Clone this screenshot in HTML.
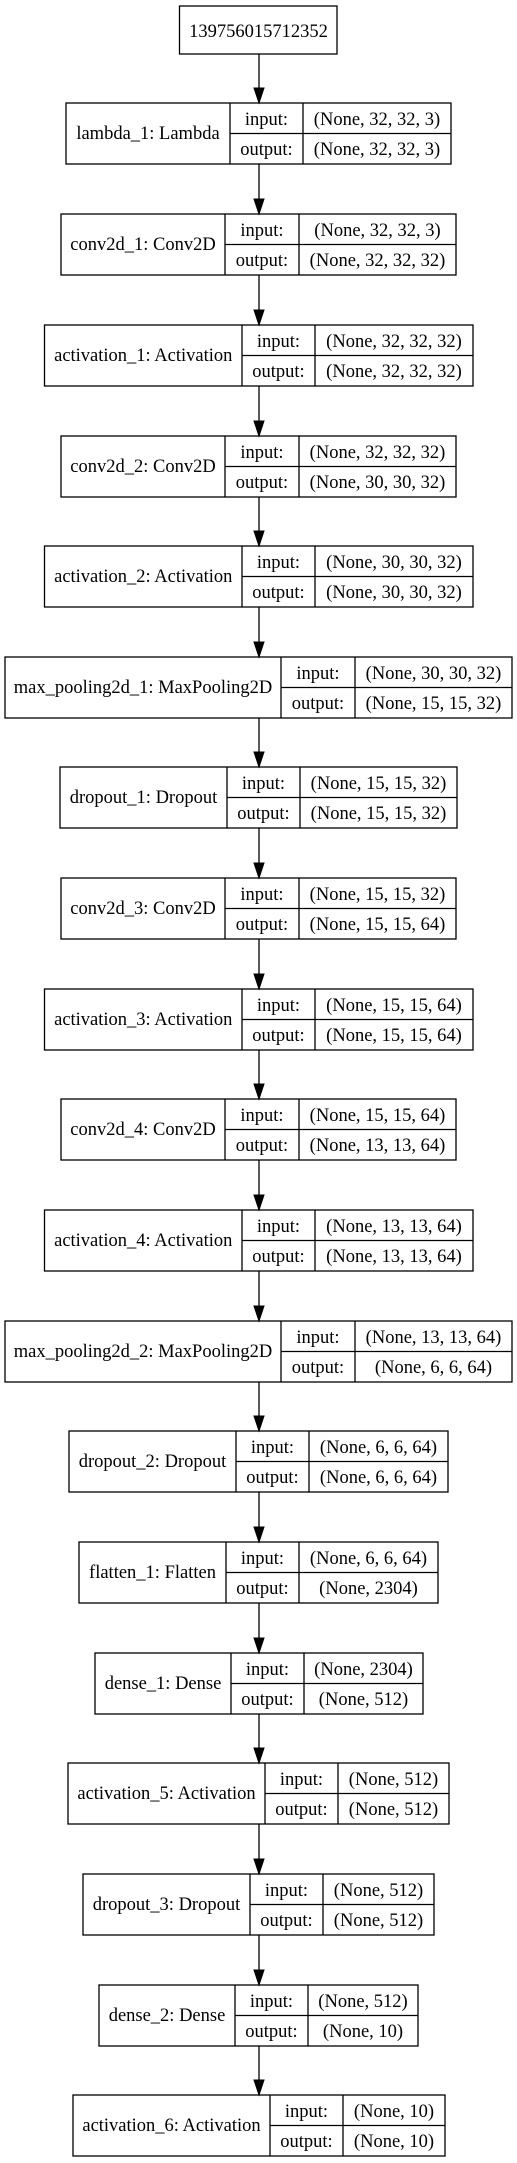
<!DOCTYPE html>
<html><head><meta charset="utf-8"><style>
html,body{margin:0;padding:0;background:#fff}
svg{display:block}
text{font-family:"Liberation Serif","DejaVu Serif",serif;font-size:18.5px;fill:#000;text-anchor:middle}
rect,line.b{fill:none;stroke:#000;stroke-width:1.3}
line.a{stroke:#000;stroke-width:1.3}
polygon{fill:#000;stroke:#000}
</style></head><body>
<svg width="517" height="2163" viewBox="0 0 517 2163" xmlns="http://www.w3.org/2000/svg">
<rect x="179.5" y="6" width="157.5" height="48"/>
<text x="258.5" y="37">139756015712352</text>
<g id="nodes"></g>
</svg>
<script>
var N=[
[103,66,230,303,451,"lambda_1: Lambda","(None, 32, 32, 3)","(None, 32, 32, 3)"],
[214,61,225,299,456,"conv2d_1: Conv2D","(None, 32, 32, 3)","(None, 32, 32, 32)"],
[325,44.5,242,315,473,"activation_1: Activation","(None, 32, 32, 32)","(None, 32, 32, 32)"],
[436,61,225,299,456,"conv2d_2: Conv2D","(None, 32, 32, 32)","(None, 30, 30, 32)"],
[546,44.5,242,315,473,"activation_2: Activation","(None, 30, 30, 32)","(None, 30, 30, 32)"],
[657,5,281,355,512,"max_pooling2d_1: MaxPooling2D","(None, 30, 30, 32)","(None, 15, 15, 32)"],
[767,60,227,300,457,"dropout_1: Dropout","(None, 15, 15, 32)","(None, 15, 15, 32)"],
[878,61,225,299,456,"conv2d_3: Conv2D","(None, 15, 15, 32)","(None, 15, 15, 64)"],
[989,44.5,242,315,473,"activation_3: Activation","(None, 15, 15, 64)","(None, 15, 15, 64)"],
[1099,61,225,299,456,"conv2d_4: Conv2D","(None, 15, 15, 64)","(None, 13, 13, 64)"],
[1210,44.5,242,315,473,"activation_4: Activation","(None, 13, 13, 64)","(None, 13, 13, 64)"],
[1321,5,281,355,512,"max_pooling2d_2: MaxPooling2D","(None, 13, 13, 64)","(None, 6, 6, 64)"],
[1431,69,236,309,448,"dropout_2: Dropout","(None, 6, 6, 64)","(None, 6, 6, 64)"],
[1542,79,226,299,438,"flatten_1: Flatten","(None, 6, 6, 64)","(None, 2304)"],
[1653,95,231,304,423,"dense_1: Dense","(None, 2304)","(None, 512)"],
[1763,68,265,338,449,"activation_5: Activation","(None, 512)","(None, 512)"],
[1874,83,250,323,434,"dropout_3: Dropout","(None, 512)","(None, 512)"],
[1985,99,235,308,418,"dense_2: Dense","(None, 512)","(None, 10)"],
[2095,73,270,343,445,"activation_6: Activation","(None, 10)","(None, 10)"]
];
var s='',prev=54,H=61;
N.forEach(function(n){
var t=n[0],l=n[1],a=n[2],b=n[3],r=n[4],m=t+H/2;
s+='<line class="a" x1="259" y1="'+prev+'" x2="259" y2="'+(t-14)+'"/>';
s+='<polygon points="254,'+(t-15)+' 264,'+(t-15)+' 259,'+t+'"/>';
s+='<rect x="'+l+'" y="'+t+'" width="'+(r-l)+'" height="'+H+'"/>';
s+='<line class="b" x1="'+a+'" y1="'+t+'" x2="'+a+'" y2="'+(t+H)+'"/>';
s+='<line class="b" x1="'+b+'" y1="'+t+'" x2="'+b+'" y2="'+(t+H)+'"/>';
s+='<line class="b" x1="'+a+'" y1="'+m+'" x2="'+r+'" y2="'+m+'"/>';
s+='<text x="'+((l+a)/2)+'" y="'+(t+36)+'">'+n[5]+'</text>';
s+='<text x="'+((a+b)/2)+'" y="'+(t+22)+'">input:</text>';
s+='<text x="'+((a+b)/2)+'" y="'+(t+52)+'">output:</text>';
s+='<text x="'+((b+r)/2)+'" y="'+(t+22)+'">'+n[6]+'</text>';
s+='<text x="'+((b+r)/2)+'" y="'+(t+52)+'">'+n[7]+'</text>';
prev=t+H;
});
document.getElementById('nodes').innerHTML=s;
</script>
</body></html>
